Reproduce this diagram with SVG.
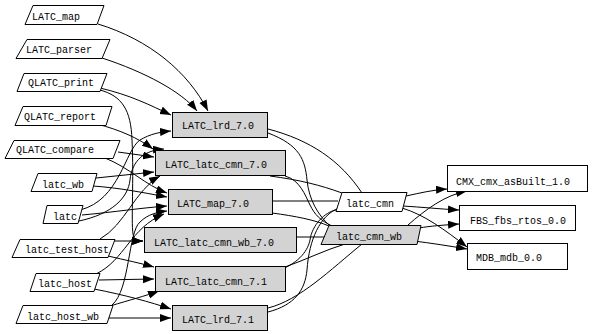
<svg xmlns="http://www.w3.org/2000/svg" width="594" height="334" viewBox="0 0 594 334">
<defs>
<marker id="ah" markerUnits="userSpaceOnUse" markerWidth="12" markerHeight="9" refX="11" refY="4" orient="auto">
<path d="M0,0 L11,4 L0,8 z" fill="#000"/>
</marker>
<style>
.n{fill:#fff;stroke:#000;stroke-width:1}
.g{fill:#d3d3d3;stroke:#000;stroke-width:1}
text{font-family:"Liberation Mono","DejaVu Sans Mono",monospace;font-size:10px;fill:#000;text-anchor:middle}
.e path{fill:none;stroke:#000;stroke-width:1}
.e .a{marker-end:url(#ah)}
</style>
</defs>
<rect width="594" height="334" fill="#fff"/>
<g class="e" id="edges">
<path class="a" d="M98,24 C150,40 188,72 208,111"/>
<path class="a" d="M102,58 C145,72 182,92 197,111"/>
<path class="a" d="M100,88 C130,95 150,105 171,115"/>
<path class="a" d="M100,90 C122,96 131,110 132,140 C134,180 131,220 133,234 C134,240 138,241 143,241"/>
<path class="a" d="M97,124 C120,130 138,138 153,149"/>
<path class="a" d="M79,221 C112,214 128,198 130,180 C132,160 145,150 164,149"/>
<path class="a" d="M118,152 L154,157"/>
<path class="a" d="M105,158 C130,168 145,185 167,193"/>
<path class="a" d="M96,178 L154,172"/>
<path class="a" d="M93,186 C120,188 140,192 167,197"/>
<path class="a" d="M80,210 C120,200 125,150 140,140 C150,134 160,132 171,131"/>
<path class="a" d="M82,215 C115,212 140,208 167,206"/>
<path class="a" d="M100,239 C125,225 135,190 160,176"/>
<path class="a" d="M113,241 L143,241"/>
<path class="a" d="M108,256 C125,260 140,263 154,267"/>
<path class="a" d="M96,274 C125,260 130,228 164,214"/>
<path class="a" d="M99,280 L154,279"/>
<path class="a" d="M94,289 C125,295 150,302 171,309"/>
<path class="a" d="M110,306 C130,300 145,296 159,291"/>
<path class="a" d="M107,318 L171,318"/>
<path class="a" d="M112,305 C130,290 128,232 140,222 C148,214 158,212 167,211"/>
<path d="M268,129 C310,140 340,160 362,193"/>
<path d="M268,133 C300,145 305,160 307,180 C309,200 318,215 330,226"/>
<path d="M270,176 C300,180 320,185 342,193"/>
<path d="M285,176 C300,180 305,195 310,205 C315,215 320,220 332,226"/>
<path d="M272,201 L338,201"/>
<path d="M272,213 C295,216 315,220 329,226"/>
<path d="M297,237 L325,237"/>
<path d="M285,267 C305,260 325,250 345,244"/>
<path d="M280,270 C300,262 308,250 310,240 C312,225 325,212 336,210"/>
<path d="M268,308 C300,300 330,270 362,244"/>
<path d="M268,312 C295,305 305,290 307,270 C309,240 320,215 339,208"/>
<path class="a" d="M406,196 C420,193 432,190 447,189"/>
<path class="a" d="M403,206 C420,207 440,209 459,210"/>
<path class="a" d="M402,208 C425,215 445,230 467,247"/>
<path class="a" d="M408,225 C425,210 445,195 467,191"/>
<path class="a" d="M419,228 C430,226 445,225 459,224"/>
<path class="a" d="M414,241 C430,243 450,246 467,249"/>
</g>
<g id="LATC_map"><polygon class="n" points="33,5.5 104,5.5 97,24.5 25,24.5"/><text x="56" y="20">LATC_map</text></g>
<g id="LATC_parser"><polygon class="n" points="27,39.5 110,39.5 102,58.5 16,58.5"/><text x="59" y="53">LATC_parser</text></g>
<g id="QLATC_print"><polygon class="n" points="24,73.5 107,73.5 100,91.5 17,91.5"/><text x="61" y="86">QLATC_print</text></g>
<g id="QLATC_report"><polygon class="n" points="23,106.5 112,106.5 106,125.5 15,125.5"/><text x="60" y="120">QLATC_report</text></g>
<g id="QLATC_compare"><polygon class="n" points="14,140.5 120,140.5 113,158.5 5,158.5"/><text x="55" y="153">QLATC_compare</text></g>
<g id="latc_wb"><polygon class="n" points="38,173.5 97,173.5 92,191.5 31,191.5"/><text x="63" y="188">latc_wb</text></g>
<g id="latc"><polygon class="n" points="47,205.5 83,205.5 78,223.5 43,223.5"/><text x="65" y="220">latc</text></g>
<g id="latc_test_host"><polygon class="n" points="20,239.5 115,239.5 108,257.5 12,257.5"/><text x="67" y="253">latc_test_host</text></g>
<g id="latc_host"><polygon class="n" points="36,273.5 100,273.5 94,291.5 30,291.5"/><text x="65" y="287">latc_host</text></g>
<g id="latc_host_wb"><polygon class="n" points="23,305.5 113,305.5 107,323.5 16,323.5"/><text x="63" y="320">latc_host_wb</text></g>
<g id="LATC_lrd_7.0"><rect class="g" x="172.5" y="112.5" width="95" height="25"/><text x="218" y="129">LATC_lrd_7.0</text></g>
<g id="LATC_latc_cmn_7.0"><rect class="g" x="155.5" y="150.5" width="130" height="25"/><text x="216" y="168">LATC_latc_cmn_7.0</text></g>
<g id="LATC_map_7.0"><rect class="g" x="168.5" y="189.5" width="104" height="25"/><text x="213" y="207">LATC_map_7.0</text></g>
<g id="LATC_latc_cmn_wb_7.0"><rect class="g" x="144.5" y="227.5" width="152" height="25"/><text x="214" y="246">LATC_latc_cmn_wb_7.0</text></g>
<g id="LATC_latc_cmn_7.1"><rect class="g" x="155.5" y="266.5" width="130" height="25"/><text x="216" y="285">LATC_latc_cmn_7.1</text></g>
<g id="LATC_lrd_7.1"><rect class="g" x="172.5" y="305.5" width="95" height="25"/><text x="218" y="323">LATC_lrd_7.1</text></g>
<g id="latc_cmn"><polygon class="n" points="342,192.5 407,192.5 402,211.5 336,211.5"/><text x="370" y="207">latc_cmn</text></g>
<g id="latc_cmn_wb"><polygon class="g" points="329,225.5 421,225.5 417,244.5 321,244.5"/><text x="369" y="240">latc_cmn_wb</text></g>
<g id="CMX_cmx_asBuilt_1.0"><rect class="n" x="447.5" y="165.5" width="140" height="26"/><text x="513" y="185">CMX_cmx_asBuilt_1.0</text></g>
<g id="FBS_fbs_rtos_0.0"><rect class="n" x="459.5" y="205.5" width="116" height="25"/><text x="518" y="224">FBS_fbs_rtos_0.0</text></g>
<g id="MDB_mdb_0.0"><rect class="n" x="467.5" y="243.5" width="100" height="26"/><text x="509" y="261">MDB_mdb_0.0</text></g>
</svg>
